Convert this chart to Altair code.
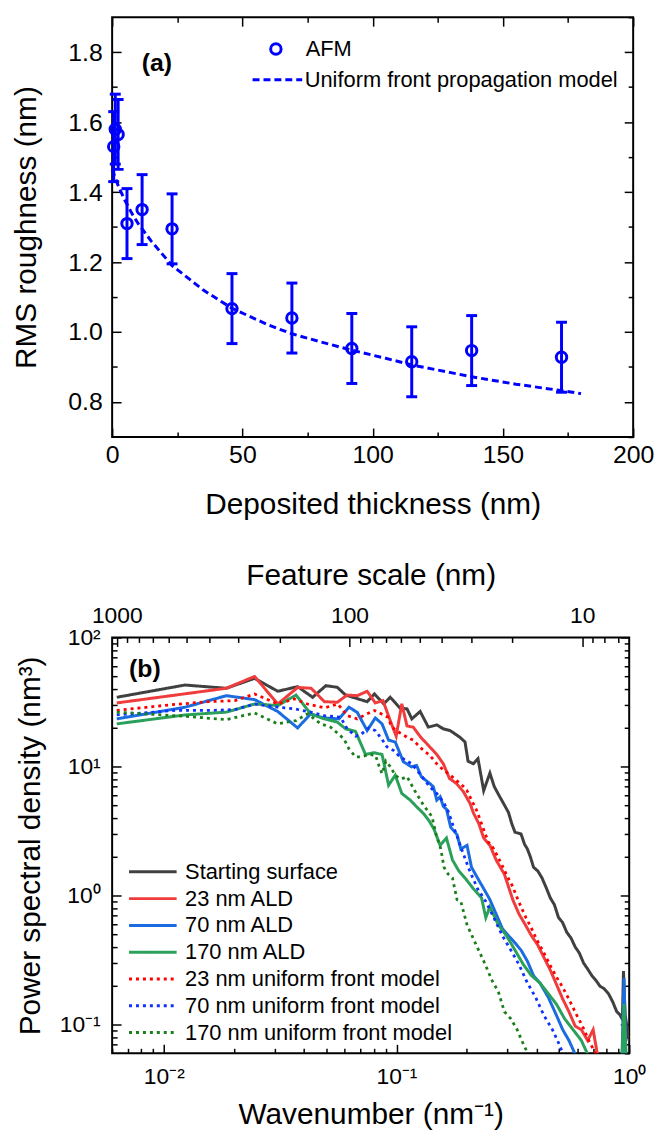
import altair as alt
import pandas as pd

FONT = "Liberation Sans"
BLUE = "#0000ff"

# ---------------- Panel (a) data ----------------
afm_thickness = [0.6, 1.2, 2.3, 5.7, 11.5, 23.0, 46.0, 69.0, 92.0, 115.0, 138.0, 172.5]
afm_rms = [1.53, 1.58, 1.565, 1.31, 1.35, 1.295, 1.067, 1.04, 0.953, 0.915, 0.947, 0.928]
afm_err = [0.10, 0.10, 0.10, 0.10, 0.10, 0.10, 0.10, 0.10, 0.10, 0.10, 0.10, 0.10]

model_thickness = [0, 2.5, 5, 7.5, 10, 15, 23, 35, 46, 60, 69, 80, 92, 105, 115, 130, 138, 155, 172, 180]
model_rms = [1.465, 1.415, 1.375, 1.34, 1.31, 1.26, 1.19, 1.12, 1.068, 1.02, 0.995, 0.972, 0.948,
             0.925, 0.906, 0.884, 0.872, 0.851, 0.833, 0.824]

a_x_ticks = [0, 25, 50, 75, 100, 125, 150, 175, 200]
a_y_ticks = [0.7, 0.8, 0.9, 1.0, 1.1, 1.2, 1.3, 1.4, 1.5, 1.6, 1.7, 1.8, 1.9]

# ---------------- Panel (b) data ----------------
series_names = ["Starting surface", "23 nm ALD", "70 nm ALD", "170 nm ALD",
                "23 nm uniform front model", "70 nm uniform front model", "170 nm uniform front model"]
series_colors = ["#404040", "#f03c3c", "#1a6ce0", "#2aa05a", "#ff0000", "#1030ff", "#1a7f1a"]

start_k = [0.00628, 0.01233, 0.01858, 0.02455, 0.0309, 0.0376, 0.0436, 0.0497, 0.0557, 0.0604, 0.0748,
           0.0804, 0.0881, 0.094, 0.1037, 0.111, 0.1164, 0.1264, 0.137, 0.149, 0.159, 0.170, 0.187, 0.197,
           0.203, 0.214, 0.224, 0.237, 0.252, 0.263, 0.274, 0.288, 0.303, 0.313, 0.323, 0.343, 0.355, 0.365,
           0.376, 0.388, 0.405, 0.422, 0.44, 0.458, 0.477, 0.497, 0.517, 0.539, 0.562, 0.586, 0.61, 0.637,
           0.663, 0.691, 0.72, 0.75, 0.78, 0.814, 0.85, 0.884, 0.91, 0.935, 0.945, 0.96, 1.0]
start_p = [34.4, 42.8, 40.4, 48.2, 38.3, 41.6, 34.4, 42.3, 41.1, 35.8, 31.8,
           36.5, 30.6, 34.4, 28.3, 28.0, 23.4, 26.7, 20.2, 21.0, 19.6, 19.0, 16.9, 15.5,
           11.0, 10.5, 11.5, 6.5, 8.9, 7.0, 6.1, 5.2, 4.4, 3.6, 3.1, 3.0, 2.5, 2.3,
           2.0, 1.66, 1.55, 1.37, 1.15, 0.96, 0.85, 0.675, 0.62, 0.52, 0.47, 0.40, 0.36, 0.30,
           0.27, 0.24, 0.22, 0.198, 0.19, 0.174, 0.15, 0.126, 0.12, 0.11, 0.26, 0.12, 0.075]

ald23_k = [0.00628, 0.01858, 0.02455, 0.0309, 0.0376, 0.043, 0.049, 0.0557, 0.0614, 0.0678, 0.0748, 0.0811,
           0.0875, 0.094, 0.0997, 0.1054, 0.111, 0.118, 0.127, 0.137, 0.149, 0.159, 0.169, 0.181, 0.194,
           0.207, 0.214, 0.226, 0.237, 0.252, 0.268, 0.291, 0.316, 0.336, 0.358, 0.38, 0.404, 0.43, 0.458,
           0.487, 0.518, 0.551, 0.586, 0.623, 0.663, 0.70, 0.735]
ald23_p = [31.1, 40.4, 49.9, 30.5, 41.0, 40.4, 31.8, 31.5, 35.8, 35.4, 38.3, 31.1,
           32.4, 22.7, 17.2, 30.6, 20.6, 20.2, 16.9, 14.6, 12.4, 10.5, 8.07, 7.39, 6.37,
           5.18, 4.38, 3.6, 2.79, 2.45, 1.89, 1.46, 0.93, 0.72, 0.593, 0.489, 0.416, 0.332, 0.265,
           0.205, 0.158, 0.126, 0.0975, 0.0914, 0.0754, 0.0914, 0.055]

ald70_k = [0.00628, 0.01233, 0.01858, 0.02455, 0.0309, 0.0376, 0.0428, 0.0473, 0.0505, 0.0566, 0.0625, 0.0678,
           0.0748, 0.0811, 0.0867, 0.0925, 0.0988, 0.107, 0.116, 0.122, 0.128, 0.139, 0.144, 0.149, 0.154,
           0.159, 0.164, 0.171, 0.182, 0.189, 0.201, 0.210, 0.223, 0.242, 0.252, 0.268, 0.285, 0.303, 0.323,
           0.343, 0.365, 0.388, 0.413, 0.449, 0.487, 0.518, 0.551, 0.586, 0.62, 0.93, 0.95, 0.97]
ald70_p = [23.4, 28.8, 35.4, 33.0, 26.7, 19.9, 25.6, 24.1, 23.7, 23.4, 28.8, 26.3,
           19.0, 23.8, 21.4, 16.0, 15.5, 10.9, 9.94, 10.2, 8.32, 7.39, 6.97, 5.5, 5.83,
           4.9, 4.67, 3.38, 2.97, 2.30, 2.45, 1.66, 1.37, 1.06, 0.93, 0.72, 0.556, 0.489, 0.43,
           0.378, 0.311, 0.240, 0.211, 0.163, 0.118, 0.0914, 0.0754, 0.059, 0.05, 0.05, 0.23, 0.05]

ald170_k = [0.00628, 0.01233, 0.01858, 0.02455, 0.0309, 0.0370, 0.0428, 0.0489, 0.0557, 0.0604, 0.0667, 0.0736,
            0.0798, 0.0867, 0.0925, 0.0988, 0.1054, 0.1145, 0.122, 0.131, 0.138, 0.145, 0.154, 0.164, 0.174,
            0.185, 0.197, 0.214, 0.232, 0.242, 0.252, 0.274, 0.297, 0.323, 0.351, 0.38, 0.413, 0.449, 0.487,
            0.528, 0.574, 0.623, 0.663, 0.70, 0.93, 0.95, 0.97]
ald170_p = [21.4, 25.1, 26.4, 30.5, 29.7, 35.8, 25.6, 23.4, 22.1, 19.6, 18.7, 12.4,
            12.8, 12.4, 7.17, 8.57, 6.18, 5.5, 4.88, 4.3, 3.8, 3.27, 2.45, 2.79, 1.89,
            1.56, 1.37, 1.13, 0.96, 0.675, 0.818, 0.593, 0.489, 0.378, 0.292, 0.240, 0.211, 0.174, 0.144,
            0.111, 0.0914, 0.0754, 0.059, 0.05, 0.05, 0.145, 0.05]

mod23_k = [0.00628, 0.0105, 0.0155, 0.0202, 0.02455, 0.0271, 0.0309, 0.0364, 0.0415, 0.049, 0.056, 0.0614,
           0.0678, 0.0748, 0.0804, 0.086, 0.0918, 0.0955, 0.102, 0.111, 0.118, 0.1285, 0.139, 0.149, 0.159,
           0.170, 0.181, 0.194, 0.201, 0.21, 0.222, 0.232, 0.248, 0.262, 0.282, 0.30, 0.314, 0.335, 0.36,
           0.38, 0.40, 0.43, 0.46, 0.49, 0.52, 0.55, 0.58, 0.60, 0.63, 0.67, 0.72]
mod23_p = [27.2, 30.0, 31.8, 32.4, 36.5, 33.8, 30.5, 33.4, 30.5, 28.5, 30.5, 24.8,
           23.4, 25.6, 27.2, 25.6, 24.1, 20.2, 18.5, 16.9, 16.0, 13.7, 12.2, 10.5, 9.4,
           8.6, 7.8, 7.0, 6.5, 5.5, 4.5, 3.6, 2.61, 2.30, 1.77, 1.4, 1.2, 0.9, 0.675,
           0.56, 0.458, 0.36, 0.282, 0.23, 0.192, 0.158, 0.130, 0.115, 0.0975, 0.0754, 0.059]

mod70_k = [0.00628, 0.0112, 0.0155, 0.0202, 0.02455, 0.0309, 0.0364, 0.0428, 0.0489, 0.0575, 0.0614, 0.0667,
           0.070, 0.076, 0.0811, 0.0867, 0.091, 0.0973, 0.102, 0.109, 0.1164, 0.124, 0.1326, 0.139, 0.149,
           0.159, 0.167, 0.175, 0.182, 0.192, 0.205, 0.223, 0.242, 0.262, 0.285, 0.31, 0.336, 0.365, 0.396,
           0.43, 0.468, 0.50, 0.52]
mod70_p = [25.1, 27.2, 27.2, 27.6, 30.5, 28.8, 28.0, 26.4, 24.8, 24.1, 19.6, 17.2,
           17.6, 19.9, 19.0, 16.2, 14.2, 13.3, 12.2, 11.2, 10.5, 9.1, 7.8, 6.97, 6.18,
           5.33, 4.47, 3.5, 2.9, 2.2, 1.6, 1.13, 0.90, 0.675, 0.489, 0.378, 0.292, 0.211, 0.163,
           0.118, 0.0914, 0.0706, 0.059]

mod170_k = [0.00628, 0.01233, 0.01858, 0.02455, 0.0309, 0.037, 0.0415, 0.0473, 0.0521, 0.0594, 0.0625, 0.0667,
            0.0711, 0.076, 0.0813, 0.084, 0.0867, 0.090, 0.094, 0.099, 0.105, 0.111, 0.120, 0.131, 0.142,
            0.148, 0.155, 0.160, 0.167, 0.174, 0.182, 0.189, 0.201, 0.218, 0.237, 0.258, 0.274, 0.291, 0.31,
            0.33, 0.351, 0.368]
mod170_p = [26.4, 24.5, 23.1, 26.0, 21.4, 22.7, 25.6, 21.4, 20.2, 16.4, 13.7, 11.9,
            11.9, 12.4, 12.2, 10.2, 8.8, 11.0, 10.0, 8.5, 8.0, 8.35, 6.46, 4.98, 4.1,
            2.97, 2.30, 1.66, 1.46, 1.37, 0.93, 0.90, 0.593, 0.43, 0.311, 0.218, 0.18, 0.126, 0.111,
            0.0914, 0.0706, 0.059]

b_x_ticks = [0.006, 0.007, 0.008, 0.009, 0.01, 0.02, 0.03, 0.04, 0.05, 0.06, 0.07, 0.08, 0.09,
             0.1, 0.2, 0.3, 0.4, 0.5, 0.6, 0.7, 0.8, 0.9, 1.0]
b_y_ticks = [0.06, 0.07, 0.08, 0.09, 0.1, 0.2, 0.3, 0.4, 0.5, 0.6, 0.7, 0.8, 0.9,
             1, 2, 3, 4, 5, 6, 7, 8, 9, 10, 20, 30, 40, 50, 60, 70, 80, 90, 100]
feature_scales = [1000, 900, 800, 700, 600, 500, 400, 300, 200, 100, 90, 80, 70, 60, 50, 40, 30, 20, 10, 9, 8, 7]

# ---------------- helpers ----------------
def tsize(test, major, minor):
    # inward ticks: negative sizes, longer for major ticks
    return {"condition": {"test": test, "value": -major}, "value": -minor}

AX = dict(domain=False, grid=False, labelFont=FONT, titleFont=FONT, tickColor="black", tickWidth=1.5,
          labelColor="black", titleColor="black", titleFontWeight="normal", labelOverlap=False,
          labelFlush=False)

# ---------------- Panel (a) ----------------
afm_df = pd.DataFrame({"t": afm_thickness, "rms": afm_rms,
                       "lo": [r - e for r, e in zip(afm_rms, afm_err)],
                       "hi": [r + e for r, e in zip(afm_rms, afm_err)],
                       "lab": ["AFM"] * len(afm_rms)})
model_df = pd.DataFrame({"t": model_thickness, "rms": model_rms,
                         "lab": ["Uniform front propagation model"] * len(model_rms)})

xsc_a = alt.Scale(domain=[0, 200], nice=False, zero=False)
ysc_a = alt.Scale(domain=[0.7, 1.9], nice=False, zero=False)
xa_major = "datum.value % 50 == 0"
ya_major = "abs(datum.value*5 - round(datum.value*5)) < 0.001"

x_bottom_a = alt.Axis(orient="bottom", values=a_x_ticks, tickSize=tsize(xa_major, 9, 5),
                      labelExpr="datum.value % 50 == 0 ? datum.label : ''",
                      labelFontSize=25, labelPadding=15, title="Deposited thickness (nm)",
                      titleFontSize=30, titlePadding=18, **AX)
y_left_a = alt.Axis(orient="left", values=a_y_ticks[1:-1], tickSize=tsize(ya_major, 9, 5),
                    labelExpr=ya_major + " ? format(datum.value, '.1f') : ''",
                    labelFontSize=25, labelPadding=19, title="RMS roughness (nm)",
                    titleFontSize=30, titlePadding=26, **AX)
x_top_a = alt.Axis(orient="top", values=a_x_ticks, tickSize=tsize(xa_major, 9, 5), labels=False,
                   title=None, minExtent=0, maxExtent=0, **AX)
y_right_a = alt.Axis(orient="right", values=a_y_ticks, tickSize=tsize(ya_major, 9, 5), labels=False,
                     title=None, minExtent=0, maxExtent=0, **AX)

err = alt.Chart(afm_df).mark_rule(color=BLUE, strokeWidth=3).encode(
    x=alt.X("t:Q", scale=xsc_a, axis=None),
    y=alt.Y("lo:Q", scale=ysc_a, axis=None),
    y2="hi:Q")
caps = alt.Chart(afm_df).transform_fold(["lo", "hi"], as_=["end", "v"]).mark_tick(
    color=BLUE, thickness=3, size=11, orient="horizontal", opacity=1).encode(
    x=alt.X("t:Q", scale=xsc_a, axis=None),
    y=alt.Y("v:Q", scale=ysc_a, axis=None))
pts = alt.Chart(afm_df).mark_point(shape="circle", filled=False, size=110, strokeWidth=3, opacity=1).encode(
    x=alt.X("t:Q", scale=xsc_a, axis=x_bottom_a),
    y=alt.Y("rms:Q", scale=ysc_a, axis=y_left_a),
    color=alt.Color("lab:N", scale=alt.Scale(domain=["AFM"], range=[BLUE]),
                    legend=alt.Legend(orient="none", legendX=154, legendY=19, title=None, padding=0,
                                      symbolType="circle", symbolSize=110, symbolStrokeWidth=3,
                                      symbolFillColor="white", clipHeight=26, labelOffset=19,
                                      labelLimit=0, labelFont=FONT, labelFontSize=22, labelColor="black")))
model = alt.Chart(model_df).mark_line(color=BLUE, strokeWidth=3).encode(
    x=alt.X("t:Q", scale=xsc_a, axis=x_top_a),
    y=alt.Y("rms:Q", scale=ysc_a, axis=y_right_a),
    strokeDash=alt.StrokeDash("lab:N", scale=alt.Scale(domain=["Uniform front propagation model"],
                                                       range=[[7, 4]]),
                              legend=alt.Legend(orient="none", legendX=140, legendY=50, title=None,
                                                padding=0, symbolType="stroke", symbolSize=2500,
                                                symbolStrokeWidth=3, symbolStrokeColor=BLUE,
                                                clipHeight=26, labelOffset=1, labelLimit=0, labelFont=FONT,
                                                labelFontSize=22, labelColor="black")))
txt_a = alt.Chart(pd.DataFrame({"lab": ["(a)"]})).mark_text(
    font=FONT, fontSize=25, fontWeight="bold", align="center", baseline="middle", color="black").encode(
    text="lab:N", x=alt.value(45), y=alt.value(46))

panel_a = alt.layer(err, caps, model, pts, txt_a).resolve_scale(
    x="shared", y="shared").resolve_axis(x="independent", y="independent").resolve_legend(
    color="independent", strokeDash="independent").properties(width=525, height=423)

# ---------------- Panel (b) ----------------
series_data = [start_k, ald23_k, ald70_k, ald170_k, mod23_k, mod70_k, mod170_k]
series_vals = [start_p, ald23_p, ald70_p, ald170_p, mod23_p, mod70_p, mod170_p]
rows = []
for name, ks, ps in zip(series_names, series_data, series_vals):
    for i, (k, p) in enumerate(zip(ks, ps)):
        rows.append({"series": name, "k": k, "p": p, "i": i})
psd_df = pd.DataFrame(rows)

xsc_b = alt.Scale(type="log", domain=[0.006, 1.0], nice=False)
ysc_b = alt.Scale(type="log", domain=[0.06, 100], nice=False)
dec_test = "abs(log(datum.value)/LN10 - round(log(datum.value)/LN10)) < 0.001"
feat_test = "indexof([1000, 100, 10], round(2*PI/datum.value)) >= 0"

x_bottom_b = alt.Axis(orient="bottom", values=b_x_ticks, tickSize=tsize(dec_test, 9, 5),
                      labelExpr="datum.value == 0.01 ? '10⁻²' : datum.value == 0.1 ? '10⁻¹' : datum.value == 1 ? '10⁰' : ''",
                      labelFontSize=23, labelPadding=21, title="Wavenumber (nm⁻¹)",
                      titleFontSize=30, titlePadding=8, **AX)
y_left_b = alt.Axis(orient="left", values=b_y_ticks[1:], tickSize=tsize(dec_test, 9, 5),
                    labelExpr="datum.value == 0.1 ? '10⁻¹' : datum.value == 1 ? '10⁰' : datum.value == 10 ? '10¹' : datum.value == 100 ? '10²' : ''",
                    labelFontSize=23, labelPadding=21, title="Power spectral density (nm³)",
                    titleFontSize=30, titlePadding=14, **AX)
x_top_b = alt.Axis(orient="top", values=[2 * 3.141592653589793 / L for L in feature_scales],
                   tickSize=tsize(feat_test, 9, 5),
                   labelExpr=feat_test + " ? format(round(2*PI/datum.value), 'd') : ''",
                   labelFontSize=23, labelPadding=19, title="Feature scale (nm)",
                   titleFontSize=30, titlePadding=10, **AX)
y_right_b = alt.Axis(orient="right", values=b_y_ticks, tickSize=tsize(dec_test, 9, 5), labels=False,
                     title=None, minExtent=0, maxExtent=0, **AX)

legend_b = alt.Legend(orient="none", legendX=15.5, legendY=223, title=None, padding=0,
                      symbolType="stroke", symbolSize=2300, symbolStrokeWidth=3, clipHeight=26.3,
                      rowPadding=0, labelOffset=7, labelLimit=0, labelFont=FONT, labelFontSize=22,
                      labelColor="black")
color_b = alt.Color("series:N", scale=alt.Scale(domain=series_names, range=series_colors), legend=legend_b)
dash_b = alt.StrokeDash("series:N", scale=alt.Scale(domain=series_names,
                                                    range=[[1, 0], [1, 0], [1, 0], [1, 0], [3, 4], [3, 4], [3, 4]]),
                        legend=legend_b)

solid = alt.Chart(psd_df).transform_filter(
    alt.FieldOneOfPredicate(field="series", oneOf=series_names[:4])).mark_line(
    strokeWidth=3, clip=True).encode(
    x=alt.X("k:Q", scale=xsc_b, axis=x_bottom_b),
    y=alt.Y("p:Q", scale=ysc_b, axis=y_left_b),
    color=color_b, strokeDash=dash_b, order="i:Q")
dotted = alt.Chart(psd_df).transform_filter(
    alt.FieldOneOfPredicate(field="series", oneOf=series_names[4:])).mark_line(
    strokeWidth=2.8, clip=True).encode(
    x=alt.X("k:Q", scale=xsc_b, axis=x_top_b),
    y=alt.Y("p:Q", scale=ysc_b, axis=y_right_b),
    color=color_b, strokeDash=dash_b, order="i:Q")
txt_b = alt.Chart(pd.DataFrame({"lab": ["(b)"]})).mark_text(
    font=FONT, fontSize=25, fontWeight="bold", align="center", baseline="middle", color="black").encode(
    text="lab:N", x=alt.value(33), y=alt.value(32))

panel_b = alt.layer(solid, dotted, txt_b).resolve_scale(
    x="shared", y="shared").resolve_axis(x="independent", y="independent").properties(width=521, height=419)

chart = alt.vconcat(panel_a, panel_b, spacing=40).resolve_scale(
    color="independent", strokeDash="independent").resolve_legend(
    color="independent", strokeDash="independent").properties(
    padding={"left": 11, "top": 11, "right": 0, "bottom": 0}, background="white").configure_view(
    stroke="black", strokeWidth=2)

chart.save("out.html", embed_options={"renderer": "svg", "actions": False})
